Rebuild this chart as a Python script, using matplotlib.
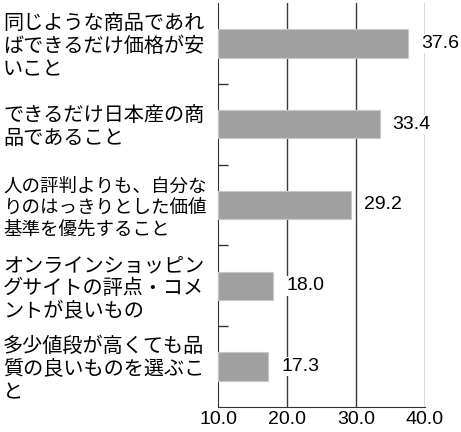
import matplotlib.pyplot as plt
import numpy as np

plt.rcParams['font.family'] = ['Noto Sans CJK JP', 'DejaVu Sans']

labels = [
    "同じような商品であれ\nばできるだけ価格が安\nいこと",
    "できるだけ日本産の商\n品であること",
    "人の評判よりも、自分な\nりのはっきりとした価値\n基準を優先すること",
    "オンラインショッピン\nグサイトの評点・コメ\nントが良いもの",
    "多少値段が高くても品\n質の良いものを選ぶこ\nと",
]
values = [37.6, 33.4, 29.2, 18.0, 17.3]
xticks = [10, 20, 30, 40]

num_font = ['Liberation Sans', 'DejaVu Sans']

fig = plt.figure(figsize=(4.61, 4.32), dpi=100)
ax = fig.add_axes([0.473, 0.058, 0.449, 0.935])

y = np.arange(len(values))
base = 10
ax.barh(y, np.array(values) - base, left=base, height=0.35,
        color='#a0a0a0', edgecolor='#c8c8c8', linewidth=0.8, zorder=3)

for yi, v in zip(y, values):
    ax.text(v + 1.9, yi, f"{v:.1f}", va='center', ha='left', fontsize=14,
            family=num_font,
            bbox=dict(facecolor='white', edgecolor='none', pad=1), zorder=4)

ax.set_xlim(10, 40)
ax.set_ylim(len(values) - 0.5, -0.5)
ax.set_xticks(xticks)
ax.set_xticklabels([f"{t:.1f}" for t in xticks], fontsize=14, family=num_font)
ax.tick_params(axis='x', length=0, pad=3)
ax.set_yticks([])
ax.set_yticks(np.arange(0.5, len(values) - 0.5, 1), minor=True)
ax.tick_params(axis='y', which='minor', direction='in', length=7, width=1, color='#333333')

for t in xticks[1:]:
    ax.axvline(t, color='#3a3a3a', linewidth=1, zorder=1)

ax.spines['top'].set_visible(False)
ax.spines['right'].set_visible(False)
ax.spines['left'].set_color('#333333')
ax.spines['bottom'].set_color('#333333')

for yi, lab in zip(y, labels):
    fy = ax.transData.transform((10, yi + 0.04))[1] / fig.bbox.height
    longest = max(len(s) for s in lab.split("\n"))
    fs = 14.5 if longest <= 10 else 13.3
    fig.text(3 / 461, fy, lab, ha='left', va='center', fontsize=fs,
             linespacing=1.12 * 14.5 / fs)

fig.savefig('out.png', dpi=100)
